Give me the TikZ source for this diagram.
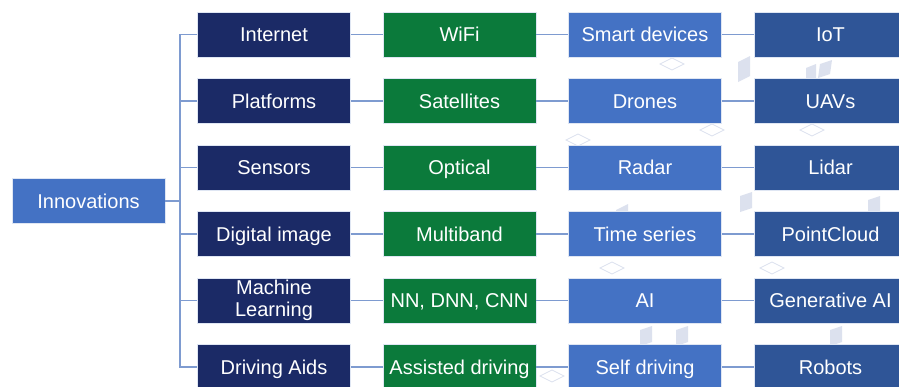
\documentclass[tikz,border=0pt]{standalone}
\usepackage{fontspec}
\setmainfont{Liberation Sans}
\definecolor{navy}{HTML}{1B2A66}
\definecolor{leafgreen}{HTML}{0B7A3B}
\definecolor{midblue}{HTML}{4472C4}
\definecolor{deepblue}{HTML}{2F5597}
\definecolor{linkblue}{HTML}{7E9BD0}
\definecolor{faint}{HTML}{DCE1EE}
\begin{document}
\begin{tikzpicture}[x=1pt,y=-1pt,
        boxbase/.style={draw=white!75!linkblue, line width=0.8pt, minimum width=153pt, minimum height=45pt,
            inner sep=0pt, text=white, align=center, font=\fontsize{20}{22}\selectfont},
        box/.style={boxbase, text height=14.5pt, text depth=0pt},
        first/.style={box, fill=navy},
        second/.style={box, fill=leafgreen},
        third/.style={box, fill=midblue},
        fourth/.style={box, fill=deepblue},
        link/.style={draw=linkblue, line width=1.5pt}]
        \clip (0,0) rectangle (899,386);
        \fill[white] (0,0) rectangle (899,386);
        % faint background pattern
        \fill[faint] (600,218) -- (612,212) -- (612,232) -- (600,238) -- cycle;
        \fill[faint] (616,210) -- (628,204) -- (628,224) -- (616,230) -- cycle;
        \fill[faint] (738,62) -- (750,56) -- (750,76) -- (738,82) -- cycle;
        \fill[faint] (820,64) -- (832,60) -- (830,74) -- (818,78) -- cycle;
        \fill[faint] (806,68) -- (816,64) -- (816,78) -- (806,82) -- cycle;
        \fill[faint] (640,330) -- (652,326) -- (652,342) -- (640,346) -- cycle;
        \fill[faint] (676,330) -- (688,326) -- (688,342) -- (676,346) -- cycle;
        \fill[faint] (830,330) -- (842,326) -- (842,342) -- (830,346) -- cycle;
        \fill[faint] (868,200) -- (880,196) -- (880,212) -- (868,216) -- cycle;
        \fill[faint] (740,196) -- (752,192) -- (752,208) -- (740,212) -- cycle;
        \draw[faint, line width=0.8pt] (700,130) -- (712,124) -- (724,130) -- (712,136) -- cycle;
        \draw[faint, line width=0.8pt] (566,140) -- (578,134) -- (590,140) -- (578,146) -- cycle;
        \draw[faint, line width=0.8pt] (600,268) -- (612,262) -- (624,268) -- (612,274) -- cycle;
        \draw[faint, line width=0.8pt] (760,268) -- (772,262) -- (784,268) -- (772,274) -- cycle;
        \draw[faint, line width=0.8pt] (800,130) -- (812,124) -- (824,130) -- (812,136) -- cycle;
        \draw[faint, line width=0.8pt] (660,64) -- (672,58) -- (684,64) -- (672,70) -- cycle;
        \draw[faint, line width=0.8pt] (540,376) -- (552,370) -- (564,376) -- (552,382) -- cycle;
        % root
        \node[third] (inno) at (88.5,201) {Innovations};
        % first column
        \node[first] (internet) at (274,34.5) {Internet};
        \node[first] (platforms) at (274,101) {Platforms};
        \node[first] (sensors) at (274,167.5) {Sensors};
        \node[first] (digital) at (274,234) {Digital image};
        \node[boxbase, fill=navy] (learning) at (274,300.5) {Machine\\Learning};
        \node[first] (aids) at (274,367) {Driving Aids};
        % second column
        \node[second] (wifi) at (459.5,34.5) {WiFi};
        \node[second] (satellites) at (459.5,101) {Satellites};
        \node[second] (optical) at (459.5,167.5) {Optical};
        \node[second] (multiband) at (459.5,234) {Multiband};
        \node[second] (nets) at (459.5,300.5) {NN, DNN, CNN};
        \node[second] (assisted) at (459.5,367) {Assisted driving};
        % third column
        \node[third] (smart) at (645,34.5) {Smart devices};
        \node[third] (drones) at (645,101) {Drones};
        \node[third] (radar) at (645,167.5) {Radar};
        \node[third] (series) at (645,234) {Time series};
        \node[third] (ai) at (645,300.5) {AI};
        \node[third] (selfdriving) at (645,367) {Self driving};
        % fourth column
        \node[fourth] (iot) at (830.5,34.5) {IoT};
        \node[fourth] (uavs) at (830.5,101) {UAVs};
        \node[fourth] (lidar) at (830.5,167.5) {Lidar};
        \node[fourth] (cloud) at (830.5,234) {PointCloud};
        \node[fourth] (genai) at (830.5,300.5) {Generative AI};
        \node[fourth] (robots) at (830.5,367) {Robots};
        % bus
        \draw[link] (inno.east) -- ++(16,0);
        \draw[link] (internet.west) -- ++(-17,0) |- (aids.west);
        \draw[link] (platforms.west) -- ++(-17,0);
        \draw[link] (sensors.west) -- ++(-17,0);
        \draw[link] (digital.west) -- ++(-17,0);
        \draw[link] (learning.west) -- ++(-17,0);
        % rows
        \draw[link] (internet) -- (wifi) -- (smart) -- (iot);
        \draw[link] (platforms) -- (satellites) -- (drones) -- (uavs);
        \draw[link] (sensors) -- (optical) -- (radar) -- (lidar);
        \draw[link] (digital) -- (multiband) -- (series) -- (cloud);
        \draw[link] (learning) -- (nets) -- (ai) -- (genai);
        \draw[link] (aids) -- (assisted) -- (selfdriving) -- (robots);
    \end{tikzpicture}
\end{document}
